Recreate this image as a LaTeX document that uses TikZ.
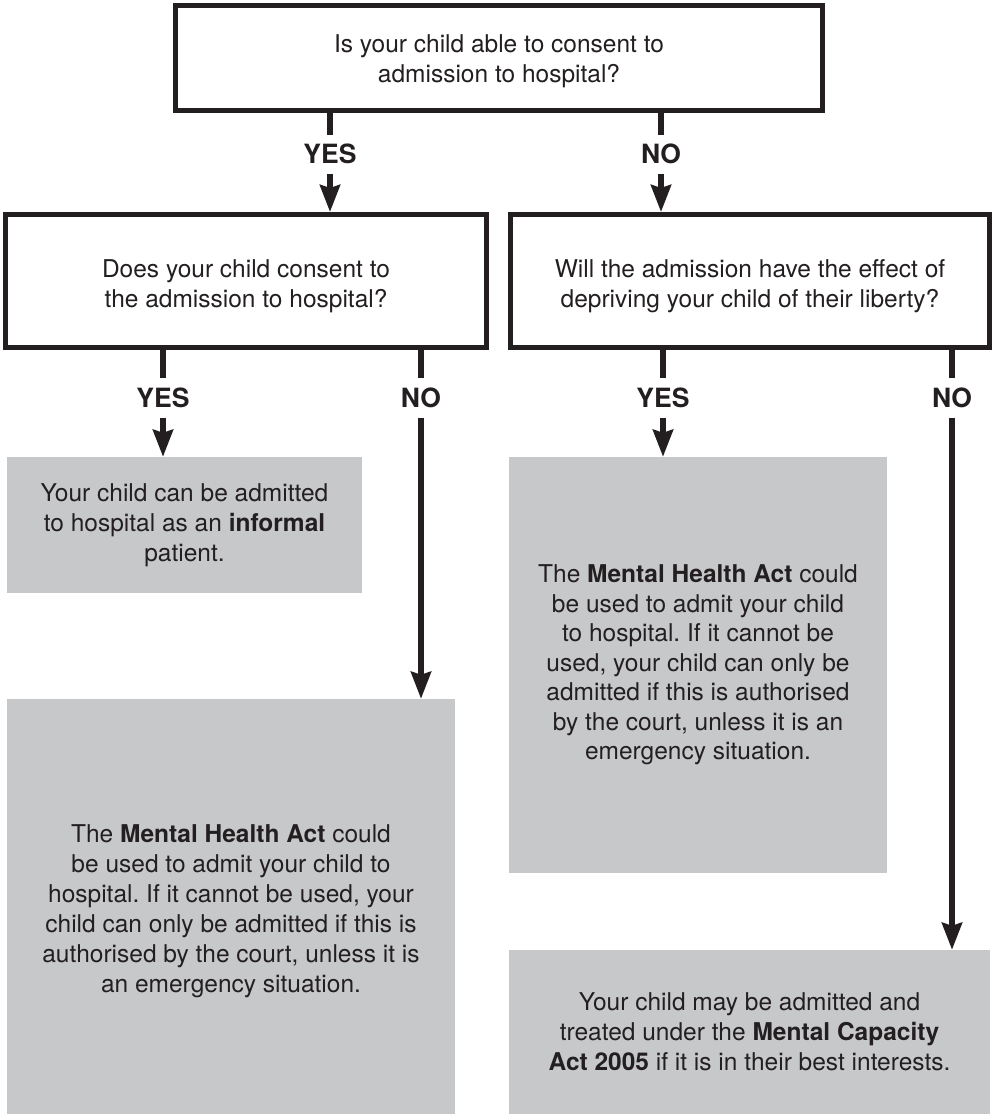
\documentclass[tikz,border=0pt]{standalone}
\usepackage{fontspec}
\setmainfont{TeX Gyre Heros}
\usetikzlibrary{arrows.meta}
\definecolor{ink}{RGB}{35,31,32}
\definecolor{boxgray}{RGB}{199,200,202}
\frenchspacing
\begin{document}
\begin{tikzpicture}[x=1pt,y=-1pt,
  txt/.style={align=center, text=ink, font=\fontsize{24.5}{30}\selectfont},
  qbox/.style={txt, draw=ink, line width=5pt, fill=white, inner sep=0pt},
  gbox/.style={txt, fill=boxgray, inner sep=0pt},
  ans/.style={text=ink, font=\bfseries\fontsize{26.5}{30}\selectfont,
    inner xsep=0pt, inner ysep=10pt, text height=19pt, text depth=0pt},
  conn/.style={draw=ink, line width=5.5pt},
  arr/.style={conn, -{Stealth[length=27pt,width=20pt,inset=3pt]}}]
\useasboundingbox (0,0) rectangle (995,1115);

% question boxes
\node[qbox, minimum width=647pt, minimum height=105pt] (q1) at (499,58)
  {\rule{0pt}{25pt}Is your child able to consent to\\admission to hospital?};
\node[qbox, minimum width=481pt, minimum height=133pt] (q2) at (246,281)
  {\rule{0pt}{29pt}Does your child consent to\\the admission to hospital?};
\node[qbox, minimum width=479pt, minimum height=133pt] (q3) at (750,281)
  {\rule{0pt}{29pt}Will the admission have the effect of\\depriving your child of their liberty?};

% outcome boxes
\node[gbox, minimum width=355pt, minimum height=136pt] (g1) at (184.5,525)
  {Your child can be admitted\\to hospital as an \textbf{informal}\\patient.};
\node[gbox, minimum width=448pt, minimum height=415pt] (g2) at (231,906.5)
  {\rule{0pt}{27pt}The \textbf{Mental Health Act} could\\be used to admit your child to\\hospital. If it cannot be used, your\\child can only be admitted if this is\\authorised by the court, unless it is\\an emergency situation.};
\node[gbox, minimum width=378pt, minimum height=416pt,
  font=\fontsize{24.5}{29.5}\selectfont] (g3) at (698,665)
  {The \textbf{Mental Health Act} could\\be used to admit your child\\to hospital. If it cannot be\\used, your child can only be\\admitted if this is authorised\\by the court, unless it is an\\emergency situation.};
\node[gbox, minimum width=481pt, minimum height=164pt] (g4) at (749.5,1032)
  {Your child may be admitted and\\treated under the \textbf{Mental Capacity}\\\textbf{Act 2005} if it is in their best interests.};

% answer labels
\node[ans] (y1) at (330,154.5) {YES};
\node[ans] (n1) at (661,154.5) {NO};
\node[ans] (y2) at (163,398) {YES};
\node[ans] (n2) at (421,398) {NO};
\node[ans] (y3) at (663,398) {YES};
\node[ans] (n3) at (952,398) {NO};

% connectors
\draw[conn] (q1.south -| y1) -- (y1);
\draw[arr] (y1) -- (q2.north -| y1);
\draw[conn] (q1.south -| n1) -- (n1);
\draw[arr] (n1) -- (q3.north -| n1);

\draw[conn] (q2.south -| y2) -- (y2);
\draw[arr] (y2) -- (g1.north -| y2);
\draw[conn] (q2.south -| n2) -- (n2);
\draw[arr] (n2) -- (g2.north -| n2);

\draw[conn] (q3.south -| y3) -- (y3);
\draw[arr] (y3) -- (g3.north -| y3);
\draw[conn] (q3.south -| n3) -- (n3);
\draw[arr] (n3) -- (g4.north -| n3);
\end{tikzpicture}
\end{document}
